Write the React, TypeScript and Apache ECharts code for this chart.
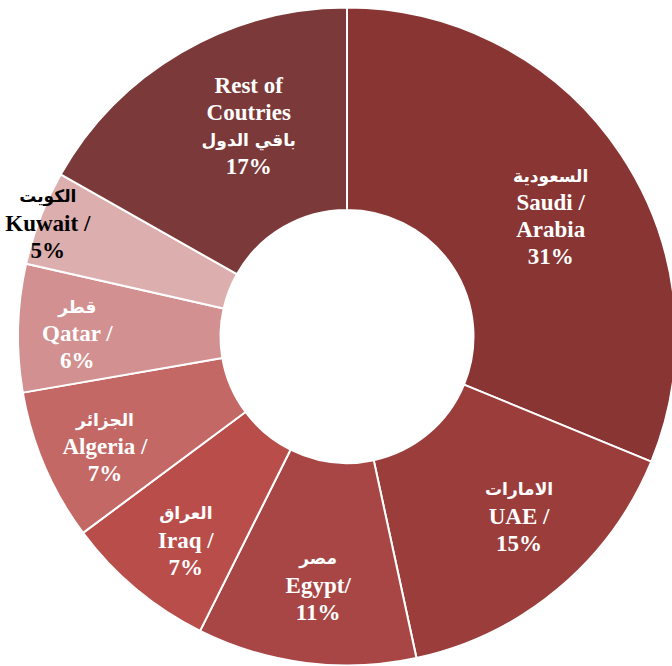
import React, { useEffect, useRef } from "react";
import * as echarts from "echarts";

const arabicNames = ["السعودية", "الامارات", "مصر", "العراق", "الجزائر", "قطر", "الكويت", "باقي الدول"];
const englishNames = ["Saudi /\nArabia", "UAE /", "Egypt/", "Iraq /", "Algeria /", "Qatar /", "Kuwait /", "Rest of\nCoutries"];
const shares = [31.2, 15.4, 10.75, 7.45, 7.45, 6.28, 4.64, 16.8];
const percentLabels = ["31%", "15%", "11%", "7%", "7%", "6%", "5%", "17%"];

const COLORS = ["#883533", "#9A3D3B", "#A84645", "#B84D4A", "#C46866", "#D29190", "#DCAEAE", "#7B3A39"];
const NUDGE: [number, number][] = [
  [12, 8], [24, 3], [0, 20], [-13, 27], [-30, 19], [-39, 3], [-84, -30], [18, -11],
];

export default function App() {
  const ref = useRef<HTMLDivElement>(null);
  useEffect(() => {
    if (!ref.current) return;
    const chart = echarts.init(ref.current, null, { renderer: "svg" });
    const data = shares.map((v, i) => {
      const isRest = i === 7;
      const text = isRest
        ? `{en|${englishNames[i]}}\n{ar|${arabicNames[i]}}\n{en|${percentLabels[i]}}`
        : `{ar|${arabicNames[i]}}\n{en|${englishNames[i]}}\n{en|${percentLabels[i]}}`;
      const dark = i === 6;
      return {
        name: englishNames[i],
        value: v,
        itemStyle: { color: COLORS[i] },
        label: {
          formatter: text,
          rich: {
            en: {
              fontFamily: "'Liberation Serif', 'Times New Roman', serif",
              fontWeight: "bold",
              fontSize: 23,
              lineHeight: 27,
              color: dark ? "#000" : "#fff",
              align: "center",
            },
            ar: {
              fontFamily: "'DejaVu Sans', 'Noto Sans', sans-serif",
              fontWeight: "bold",
              fontSize: 17,
              lineHeight: 27,
              color: dark ? "#000" : "#fff",
              align: "center",
            },
          },
        },
      };
    });
    chart.setOption({
      animation: false,
      backgroundColor: "#fff",
      series: [
        {
          type: "pie",
          center: [347, 336.5],
          radius: [126.5, 329],
          startAngle: 90,
          clockwise: true,
          avoidLabelOverlap: false,
          itemStyle: { borderColor: "#fff", borderWidth: 2 },
          label: { show: true, position: "inside" },
          labelLine: { show: false },
          emphasis: { disabled: true },
          labelLayout: (params: any) => {
            const n = NUDGE[params.dataIndex] || [0, 0];
            return { dx: n[0], dy: n[1] };
          },
          data,
        },
      ],
    });
    return () => chart.dispose();
  }, []);
  return (
    <div
      ref={ref}
      style={{ position: "fixed", left: 0, top: 0, width: 672, height: 666 }}
    />
  );
}
